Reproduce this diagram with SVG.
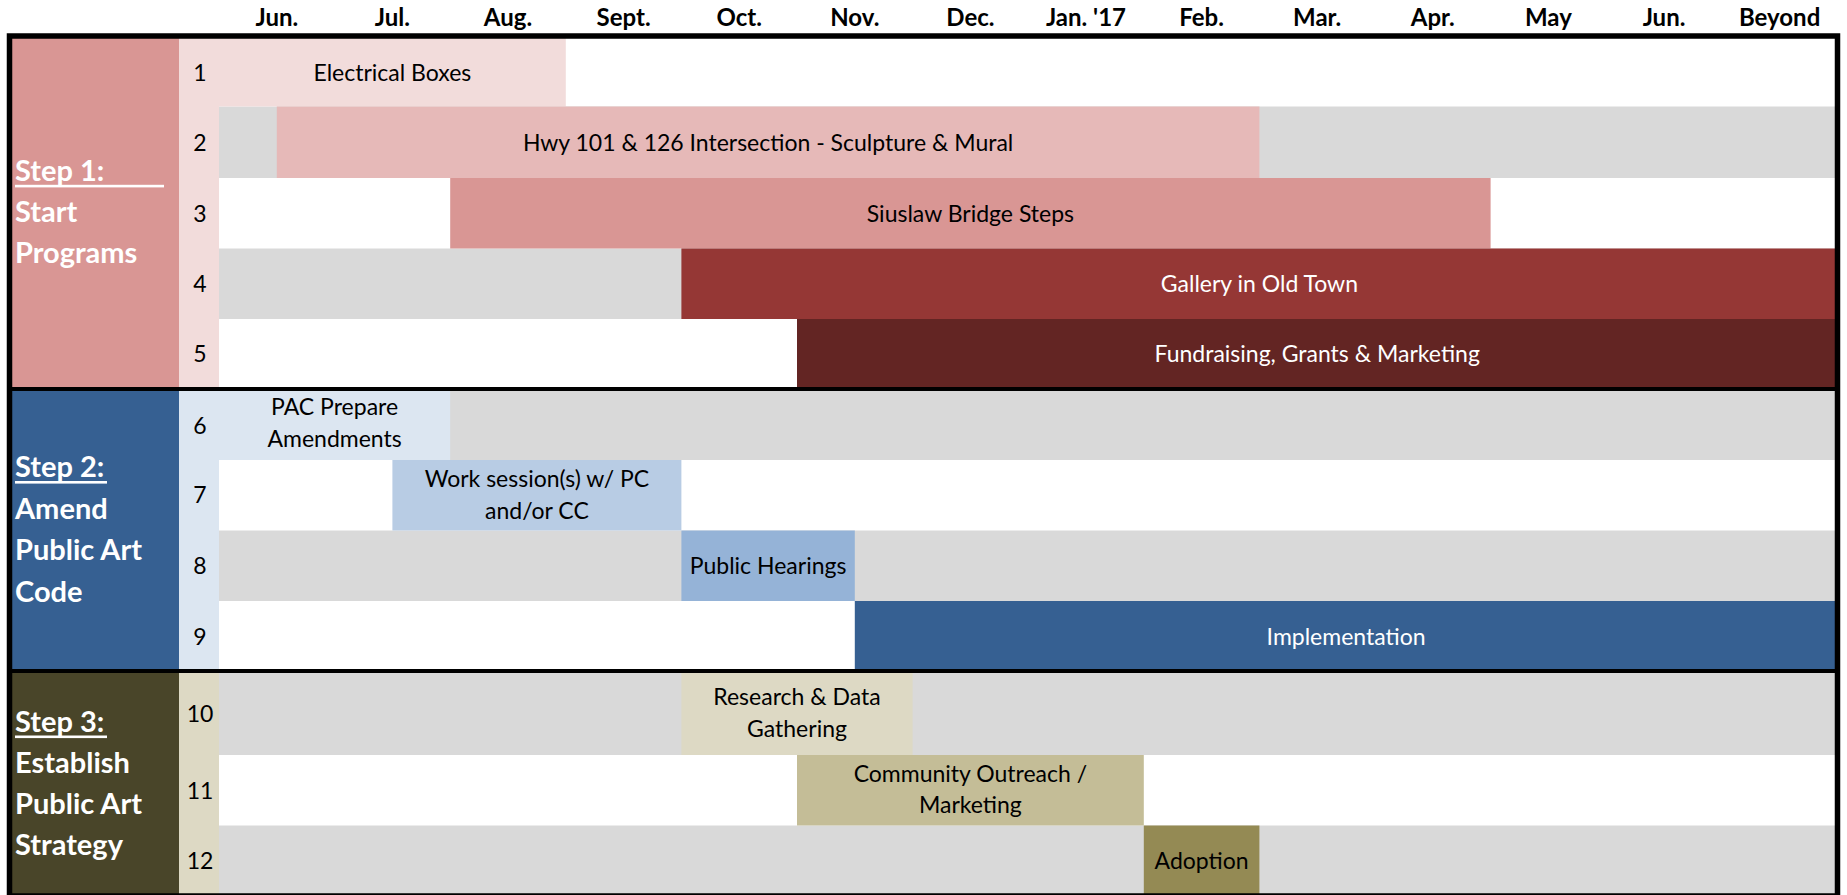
<svg xmlns="http://www.w3.org/2000/svg" width="1847" height="895" viewBox="0 0 1847 895">
  <style>
    text { font-family: Lato, "Liberation Sans", sans-serif; }
    .month { font-size: 24px; font-weight: 700; fill: #000; text-anchor: middle; }
    .num { font-size: 23px; fill: #000; text-anchor: middle; }
    .task { font-size: 23px; fill: #000; text-anchor: middle; }
    .task.light { fill: #fff; }
    .step { font-size: 29px; font-weight: 700; fill: #fff; }
    .ul { fill: #fff; }
    .gray { fill: #d9d9d9; }
    .sep { fill: #000; }
  </style>

  <!-- page -->
  <rect x="0" y="0" width="1847" height="895" fill="#fff"/>

  <!-- month header -->
  <g id="header">
    <text class="month" x="276.8" y="26">Jun.</text>
    <text class="month" x="392.4" y="26">Jul.</text>
    <text class="month" x="508" y="26">Aug.</text>
    <text class="month" x="623.6" y="26">Sept.</text>
    <text class="month" x="739.2" y="26">Oct.</text>
    <text class="month" x="854.8" y="26">Nov.</text>
    <text class="month" x="970.4" y="26">Dec.</text>
    <text class="month" x="1086" y="26">Jan. '17</text>
    <text class="month" x="1201.6" y="26">Feb.</text>
    <text class="month" x="1317.2" y="26">Mar.</text>
    <text class="month" x="1432.8" y="26">Apr.</text>
    <text class="month" x="1548.4" y="26">May</text>
    <text class="month" x="1664" y="26">Jun.</text>
    <text class="month" x="1779.6" y="26">Beyond</text>
  </g>

  <!-- alternating row shading -->
  <g id="grid">
    <rect class="gray" x="219" y="106.5" width="1620" height="71.5"/>
    <rect class="gray" x="219" y="248.5" width="1620" height="70.5"/>
    <rect class="gray" x="219" y="389" width="1620" height="71"/>
    <rect class="gray" x="219" y="530.5" width="1620" height="70.5"/>
    <rect class="gray" x="219" y="671" width="1620" height="84"/>
    <rect class="gray" x="219" y="825.5" width="1620" height="70"/>
  </g>

  <!-- Step 1: Start Programs -->
  <g id="step1">
    <rect x="9" y="36" width="170" height="353" fill="#d99694"/>
    <rect x="179" y="36" width="40" height="353" fill="#f2dcdb"/>
    <text class="step" x="15" y="181">Step 1:</text>
    <rect class="ul" x="15" y="184.8" width="149" height="2.6"/>
    <text class="step" x="15" y="222">Start</text>
    <text class="step" x="15" y="263">Programs</text>
  </g>
  <g id="task1">
    <rect x="179" y="36" width="386.8" height="70.5" fill="#f2dcdb"/>
    <text class="num" x="200" y="80.5">1</text>
    <text class="task" x="392.4" y="80.5">Electrical Boxes</text>
  </g>
  <g id="task2">
    <rect x="276.8" y="106.5" width="982.6" height="71.5" fill="#e6b9b8"/>
    <text class="num" x="200" y="150.5">2</text>
    <text class="task" x="768.1" y="150.5">Hwy 101 &amp; 126 Intersection - Sculpture &amp; Mural</text>
  </g>
  <g id="task3">
    <rect x="450.2" y="178" width="1040.4" height="70.5" fill="#d99694"/>
    <text class="num" x="200" y="221.5">3</text>
    <text class="task" x="970.4" y="221.5">Siuslaw Bridge Steps</text>
  </g>
  <g id="task4">
    <rect x="681.4" y="248.5" width="1157.6" height="70.5" fill="#953735"/>
    <text class="num" x="200" y="292">4</text>
    <text class="task light" x="1259.4" y="292">Gallery in Old Town</text>
  </g>
  <g id="task5">
    <rect x="797" y="319" width="1042" height="70" fill="#632523"/>
    <text class="num" x="200" y="362">5</text>
    <text class="task light" x="1317.2" y="362">Fundraising, Grants &amp; Marketing</text>
  </g>

  <!-- Step 2: Amend Public Art Code -->
  <g id="step2">
    <rect x="9" y="389" width="170" height="282" fill="#366092"/>
    <rect x="179" y="389" width="40" height="282" fill="#dce6f1"/>
    <text class="step" x="15" y="477">Step 2:</text>
    <rect class="ul" x="15" y="481" width="92" height="2.6"/>
    <text class="step" x="15" y="518.5">Amend</text>
    <text class="step" x="15" y="560">Public Art</text>
    <text class="step" x="15" y="601.5">Code</text>
  </g>
  <g id="task6">
    <rect x="179" y="389" width="271.2" height="71" fill="#dce6f1"/>
    <text class="num" x="200" y="433.5">6</text>
    <text class="task" x="334.6" y="415">PAC Prepare</text>
    <text class="task" x="334.6" y="447">Amendments</text>
  </g>
  <g id="task7">
    <rect x="392.4" y="460" width="289" height="70.5" fill="#b8cce4"/>
    <text class="num" x="200" y="503">7</text>
    <text class="task" x="536.9" y="487">Work session(s) w/ PC</text>
    <text class="task" x="536.9" y="518.5">and/or CC</text>
  </g>
  <g id="task8">
    <rect x="681.4" y="530.5" width="173.4" height="70.5" fill="#95b3d7"/>
    <text class="num" x="200" y="574">8</text>
    <text class="task" x="768.1" y="574">Public Hearings</text>
  </g>
  <g id="task9">
    <rect x="854.8" y="601" width="984.2" height="70" fill="#366092"/>
    <text class="num" x="200" y="644.5">9</text>
    <text class="task light" x="1346.1" y="644.5">Implementation</text>
  </g>

  <!-- Step 3: Establish Public Art Strategy -->
  <g id="step3">
    <rect x="9" y="671" width="170" height="224" fill="#494529"/>
    <rect x="179" y="671" width="40" height="224" fill="#ddd9c4"/>
    <text class="step" x="15" y="732">Step 3:</text>
    <rect class="ul" x="15" y="735.5" width="92" height="2.6"/>
    <text class="step" x="15" y="773">Establish</text>
    <text class="step" x="15" y="814">Public Art</text>
    <text class="step" x="15" y="855">Strategy</text>
  </g>
  <g id="task10">
    <rect x="681.4" y="671" width="231.2" height="84" fill="#ddd9c4"/>
    <text class="num" x="200" y="722">10</text>
    <text class="task" x="797" y="705">Research &amp; Data</text>
    <text class="task" x="797" y="737">Gathering</text>
  </g>
  <g id="task11">
    <rect x="797" y="755" width="346.8" height="70.5" fill="#c4bd97"/>
    <text class="num" x="200" y="799">11</text>
    <text class="task" x="970.4" y="782">Community Outreach /</text>
    <text class="task" x="970.4" y="813">Marketing</text>
  </g>
  <g id="task12">
    <rect x="1143.8" y="825.5" width="115.6" height="70" fill="#948a54"/>
    <text class="num" x="200" y="869">12</text>
    <text class="task" x="1201.6" y="869">Adoption</text>
  </g>

  <!-- section dividers and outer frame -->
  <g id="frame">
    <rect class="sep" x="9" y="387" width="1830" height="4"/>
    <rect class="sep" x="9" y="669" width="1830" height="4"/>
    <rect x="9.5" y="36" width="1828" height="860" fill="none" stroke="#000" stroke-width="5.5"/>
  </g>
</svg>
